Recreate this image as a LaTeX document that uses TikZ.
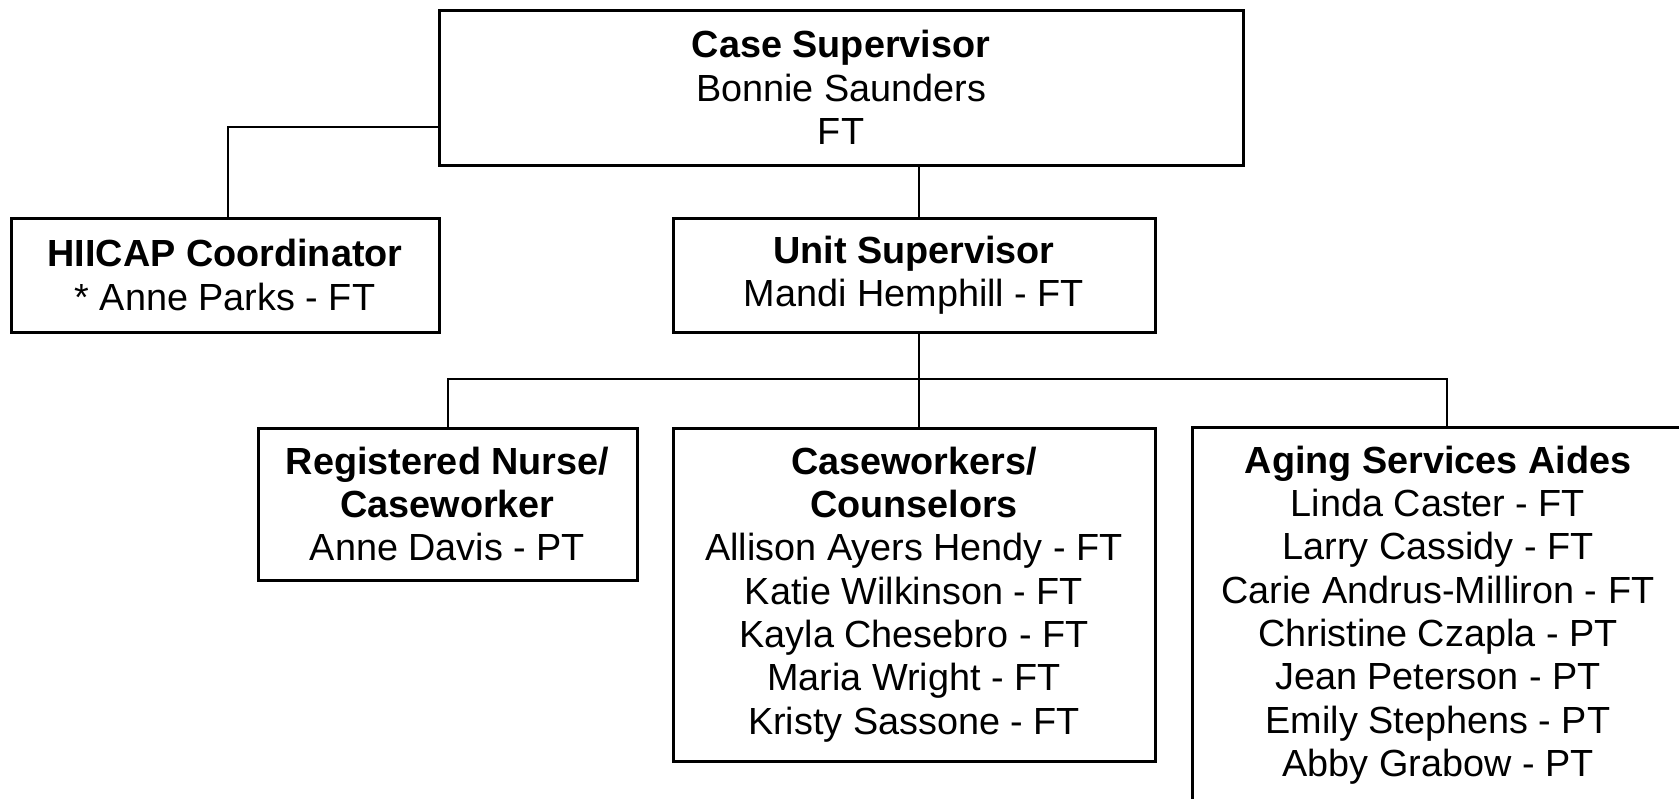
\documentclass[tikz,border=0pt]{standalone}
\usepackage{fontspec}
\setmainfont{Liberation Sans}
\begin{document}
\begin{tikzpicture}[x=1pt,y=-1pt,
  box/.style={draw=black,line width=3pt,rectangle,inner sep=0pt,align=center,
    font=\fontsize{37.8}{43.3}\selectfont},
  link/.style={draw=black,line width=2pt}]
\useasboundingbox (0,0) rectangle (1679,798);
\fill[white] (0,0) rectangle (1679,798);
\clip (0,0) rectangle (1679,798);
\node[box,minimum width=804pt,minimum height=155pt] (top) at (841,87.5)
  {\textbf{Case Supervisor}\\Bonnie Saunders\\FT};
\node[box,minimum width=428pt,minimum height=114pt] (hiicap) at (225,275)
  {\textbf{HIICAP Coordinator}\\* Anne Parks - FT};
\node[box,minimum width=482pt,minimum height=114pt] (unit) at (914,275)
  {\textbf{Unit Supervisor}\\Mandi Hemphill - FT};
\node[box,minimum width=379pt,minimum height=152pt] (rn) at (447.5,504)
  {\textbf{Registered Nurse/}\\\textbf{Caseworker}\\Anne Davis - PT};
\node[box,minimum width=482pt,minimum height=333pt] (cw) at (914,594.5)
  {\textbf{Caseworkers/}\\\textbf{Counselors}\\Allison Ayers Hendy - FT\\Katie Wilkinson - FT\\Kayla Chesebro - FT\\Maria Wright - FT\\Kristy Sassone - FT};
\node[box,minimum width=492pt,minimum height=376pt] (asa) at (1438,615)
  {\textbf{Aging Services Aides}\\Linda Caster - FT\\Larry Cassidy - FT\\Carie Andrus-Milliron - FT\\Christine Czapla - PT\\Jean Peterson - PT\\Emily Stephens - PT\\Abby Grabow - PT};
\coordinate (j1) at (919,379);
\coordinate (j0) at (228,127);
\coordinate (j2) at (1447,379);
\draw[link] (top.south -| j1) -- (unit.north -| j1);
\draw[link] (top.west |- j0) -- (j0) -- (hiicap.north -| j0);
\draw[link] (unit.south -| j1) -- (cw.north -| j1);
\draw[link] (rn.north) |- (j1);
\draw[link] (j1) -- (j2) -- (asa.north -| j2);
\end{tikzpicture}
\end{document}
